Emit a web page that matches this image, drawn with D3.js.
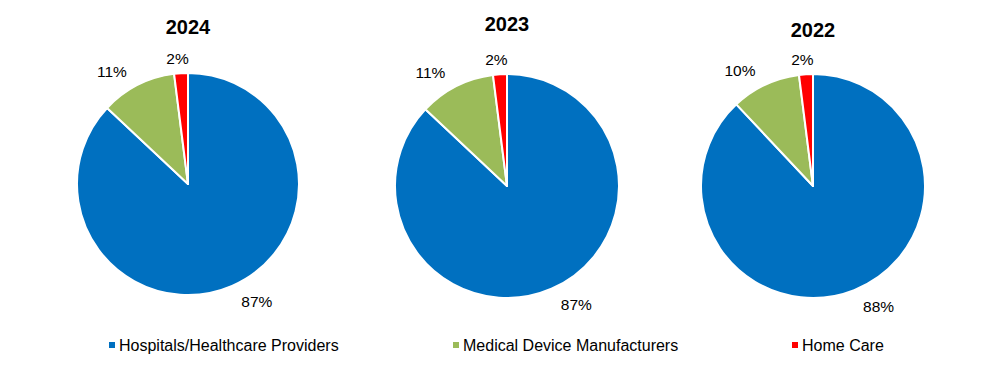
<!DOCTYPE html>
<html><head><meta charset="utf-8">
<script src="https://cdn.jsdelivr.net/npm/d3@7"></script>
<style>body{margin:0;background:#fff}svg{display:block}</style>
</head><body>
<svg id="c" width="1006" height="382"></svg>
<script>
const years = ["2024", "2023", "2022"];
const categories = ["Hospitals/Healthcare Providers", "Medical Device Manufacturers", "Home Care"];
const values2024 = [87, 11, 2];
const values2023 = [87, 11, 2];
const values2022 = [88, 10, 2];
const seriesValues = [values2024, values2023, values2022];
const colors = ["#0070C0", "#9BBB59", "#FF0000"];

const svg = d3.select("#c");
const font = "Liberation Sans, Arial, sans-serif";
const centers = [[188, 184, 111], [507, 186, 112], [813, 186, 112]];
const titleY = [27, 24, 30];

const pie = d3.pie().sort(null).value(d => d);
const color = d3.scaleOrdinal().domain(categories).range(colors);

seriesValues.forEach((vals, i) => {
  const [cx, cy, r] = centers[i];
  const g = svg.append("g").attr("transform", `translate(${cx},${cy})`);
  const arcs = pie(vals);
  const arc = d3.arc().innerRadius(0).outerRadius(r);
  g.selectAll("path").data(arcs).join("path")
    .attr("d", arc)
    .attr("fill", (d, j) => color(categories[j]))
    .attr("stroke", "#fff").attr("stroke-width", 2).attr("stroke-linejoin", "round");
  g.selectAll("text.lbl").data(arcs).join("text").attr("class", "lbl")
    .each(function(d, j) {
      const small = (d.endAngle - d.startAngle) < 0.2;
      const lr = small ? r + 15 : r + 25;
      const shift = small ? -1.2 * Math.PI / 180 : -7 * Math.PI / 180;
      const a = (d.startAngle + d.endAngle) / 2 + shift;
      d3.select(this)
        .attr("x", Math.sin(a) * lr)
        .attr("y", -Math.cos(a) * lr)
        .attr("text-anchor", "middle")
        .attr("dominant-baseline", "central")
        .attr("font-family", font).attr("font-size", 15.5).attr("fill", "#000")
        .text(d3.format(".0f")(d.value) + "%");
    });
  svg.append("text")
    .attr("x", cx).attr("y", titleY[i])
    .attr("text-anchor", "middle").attr("dominant-baseline", "central")
    .attr("font-family", font).attr("font-weight", "bold").attr("font-size", 20)
    .text(years[i]);
});

const legendX = [109, 453, 792];
const lg = svg.append("g");
categories.forEach((c, i) => {
  lg.append("rect").attr("x", legendX[i]).attr("y", 342).attr("width", 6).attr("height", 6)
    .attr("fill", color(c));
  lg.append("text").attr("x", legendX[i] + 10).attr("y", 345)
    .attr("dominant-baseline", "central")
    .attr("font-family", font).attr("font-size", 16).attr("fill", "#000")
    .text(c);
});
</script>
</body></html>
